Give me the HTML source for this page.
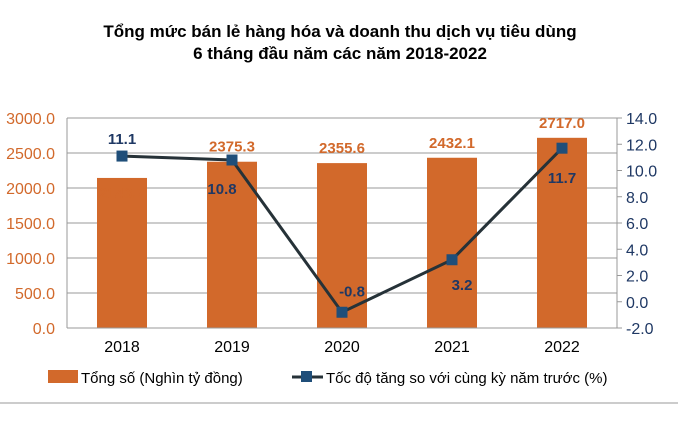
<!DOCTYPE html>
<html><head><meta charset="utf-8"><style>
body{margin:0;background:#fff;width:678px;height:424px;overflow:hidden;font-family:"Liberation Sans",sans-serif}
</style></head><body>
<svg width="678" height="424" style="font-family:'Liberation Sans',sans-serif">
<text x="340" y="37" text-anchor="middle" font-size="17" font-weight="bold">Tổng mức bán lẻ hàng hóa và doanh thu dịch vụ tiêu dùng</text>
<text x="340" y="59" text-anchor="middle" font-size="17" font-weight="bold">6 tháng đầu năm các năm 2018-2022</text>
<g id="grid"></g><g id="bars"></g><g id="line"></g><g id="labels"></g>
<line x1="67" y1="328" x2="617" y2="328" stroke="#999"/>
<line x1="67" y1="118" x2="67" y2="328" stroke="#999"/>
<line x1="617" y1="118" x2="617" y2="328" stroke="#999"/>
<g>
<rect x="48" y="370" width="30" height="13" fill="#d2692b"/>
<text x="81" y="383" font-size="15">Tổng số (Nghìn tỷ đồng)</text>
<line x1="292" y1="377" x2="323" y2="377" stroke="#263238" stroke-width="3"/>
<rect x="301" y="371" width="11" height="11" fill="#1f4e79"/>
<text x="326" y="383" font-size="15">Tốc độ tăng so với cùng kỳ năm trước (%)</text>
</g>
<line x1="0" y1="403" x2="678" y2="403" stroke="#999"/>
</svg>
<script>
const categories=["2018","2019","2020","2021","2022"];
const totals=[2143.7,2375.3,2355.6,2432.1,2717.0];
const growth=[11.1,10.8,-0.8,3.2,11.7];
const leftTicks=["0.0","500.0","1000.0","1500.0","2000.0","2500.0","3000.0"];
const rightTicks=["-2.0","0.0","2.0","4.0","6.0","8.0","10.0","12.0","14.0"];
const NS="http://www.w3.org/2000/svg";
const yL=v=>328-v/3000*210, yR=v=>328-(v+2)/16*210, xC=i=>67+110*(i+0.5);
function mk(p,t,a){const e=document.createElementNS(NS,t);for(const k in a)e.setAttribute(k,a[k]);document.getElementById(p).appendChild(e);return e;}
leftTicks.forEach(t=>{const y=yL(parseFloat(t));
 if(parseFloat(t)>0){const g=mk("grid","line",{x1:67,x2:617,y1:y,y2:y,stroke:"#999"});
 
 }
 const e=mk("grid","text",{x:55,y:y+6,"text-anchor":"end","font-size":16,fill:"#d2692b"});e.textContent=t;
 
 });
rightTicks.forEach(t=>{const y=yR(parseFloat(t));
 const e=mk("grid","text",{x:626,y:y+6,"font-size":16,fill:"#1f3864"});e.textContent=t;
 
 
 const k=mk("grid","line",{x1:617,x2:622,y1:y,y2:y,stroke:"#999"});
 
 });
categories.forEach((c,i)=>{
 const r=mk("bars","rect",{x:xC(i)-25,y:yL(totals[i]),width:50,height:328-yL(totals[i]),fill:"#d2692b"});
 
 
 const t=mk("grid","text",{x:xC(i),y:352,"text-anchor":"middle","font-size":16});t.textContent=c;
 
 });
const pts=growth.map((g,i)=>xC(i)+","+yR(g)).join(" ");
const pl=mk("line","polyline",{points:pts,fill:"none",stroke:"#263238","stroke-width":3});


growth.forEach((g,i)=>{const m=mk("line","rect",{x:xC(i)-5.5,y:yR(g)-5.5,width:11,height:11,fill:"#1f4e79"});
 
 });
const barOff=[[0,20],[0,-10],[0,-10],[0,-10],[0,-10]];
const grOff=[[0,-12],[-10,34],[10,-16],[10,30],[0,35]];
totals.forEach((v,i)=>{const t=mk("labels","text",{x:xC(i)+barOff[i][0],y:yL(v)+barOff[i][1],"text-anchor":"middle","font-size":15,"font-weight":"bold",fill:"#d2692b"});t.textContent=v.toFixed(1);
 
 });
growth.forEach((v,i)=>{const t=mk("labels","text",{x:xC(i)+grOff[i][0],y:yR(v)+grOff[i][1],"text-anchor":"middle","font-size":15,"font-weight":"bold",fill:"#1f3864"});t.textContent=v.toFixed(1);
 
 });
</script>
</body></html>
